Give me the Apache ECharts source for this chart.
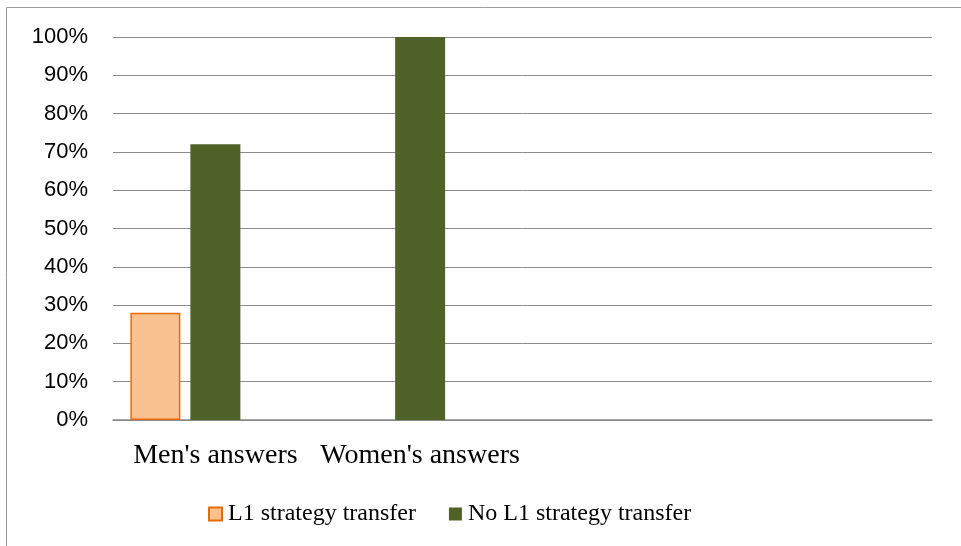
<!DOCTYPE html>
<html>
<head>
<meta charset="utf-8">
<script src="https://cdn.jsdelivr.net/npm/echarts@6/dist/echarts.min.js"></script>
<style>
  html, body { margin: 0; padding: 0; background: #fff; }
  #chart { width: 961px; height: 546px; }
</style>
</head>
<body>
<div id="chart"></div>
<script>
// categories (the last two are empty slots in the original chart)
const categories = ["Men's answers", "Women's answers", "", ""];
// percentages per series
const l1Transfer = [28, 0, null, null];
const noL1Transfer = [72, 100, null, null];
// third series is empty in the source, it only reserves space in each group
const emptySeries = [null, null, null, null];
const yTicks = { min: 0, max: 100, step: 10 };

const chart = echarts.init(document.getElementById("chart"));

// zero bars get no outline, like the original
const noZeroBorder = (arr) =>
  arr.map((v) => (v === 0 ? { value: v, itemStyle: { borderWidth: 0 } } : v));

const option = {
  animation: false,
  backgroundColor: "#fff",
  graphic: [
    {
      type: "rect",
      shape: { x: 6.5, y: 7.5, width: 1000, height: 1000 },
      style: { fill: "none", stroke: "#9a9a9a", lineWidth: 1 },
      silent: true,
    },
  ],
  grid: { left: 113, right: 29, top: 37, bottom: 126 },
  legend: {
    data: ["L1 strategy transfer", "No L1 strategy transfer"],
    icon: "rect",
    left: 203,
    top: 497,
    itemWidth: 13,
    itemHeight: 13,
    itemGap: 33,
    textStyle: { fontFamily: "Liberation Serif", fontSize: 24, color: "#000", padding: [0, 0, 0, 1] },
  },
  xAxis: {
    type: "category",
    data: categories,
    axisLine: { lineStyle: { color: "#888", width: 1.5 } },
    axisTick: { show: false },
    axisLabel: {
      interval: 0,
      margin: 22,
      fontFamily: "Liberation Serif",
      fontSize: 28,
      color: "#000",
    },
  },
  yAxis: {
    type: "value",
    min: yTicks.min,
    max: yTicks.max,
    interval: yTicks.step,
    axisLine: { show: false },
    axisTick: { show: false },
    axisLabel: {
      formatter: "{value}%",
      margin: 25,
      fontFamily: "Liberation Sans",
      fontSize: 22,
      color: "#000",
    },
    splitLine: { lineStyle: { color: "#8c8c8c", width: 1 } },
  },
  series: [
    {
      name: "L1 strategy transfer",
      type: "bar",
      data: noZeroBorder(l1Transfer),
      barWidth: 50,
      barGap: "20%",
      itemStyle: { color: "#F9C090", borderColor: "#E46C0A", borderWidth: 1.5 },
    },
    {
      name: "No L1 strategy transfer",
      type: "bar",
      data: noL1Transfer,
      barWidth: 50,
      barGap: "20%",
      itemStyle: { color: "#4F6228" },
    },
    {
      name: "",
      type: "bar",
      data: emptySeries,
      barWidth: 50,
      barGap: "20%",
    },
  ],
};

chart.setOption(option);
</script>
</body>
</html>
